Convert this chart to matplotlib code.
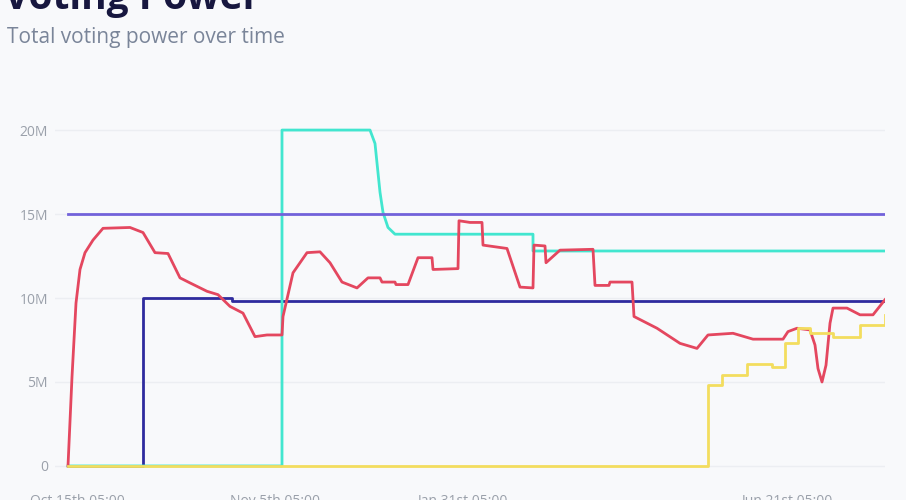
import matplotlib
matplotlib.use('Agg')
import matplotlib.pyplot as plt
from matplotlib.ticker import FuncFormatter

# time axis in chart units (0 = first sample)
red_t = [0, 4, 8, 12, 17, 25, 35, 62, 75, 87, 100, 112, 122, 139, 150, 162, 175, 187, 199, 214,
         215, 225, 239, 252, 262, 274, 289, 300, 312, 314, 327, 328, 340, 350, 364, 365, 390,
         391, 402, 414, 415, 439, 452, 465, 466, 477, 478, 492, 525, 527, 541, 542, 564, 566,
         589, 612, 629, 640, 665, 685, 715, 720, 729, 742, 747, 750, 754, 758, 762, 765, 779,
         792, 805, 817]
red_v = [0, 5.3, 9.7, 11.7, 12.7, 13.45, 14.15, 14.2, 13.9, 12.7, 12.65, 11.2, 10.9, 10.4, 10.2,
         9.5, 9.1, 7.7, 7.8, 7.8, 8.9, 11.5, 12.7, 12.75, 12.1, 10.95, 10.6, 11.2, 11.2, 10.95,
         10.95, 10.8, 10.8, 12.4, 12.4, 11.7, 11.75, 14.6, 14.5, 14.5, 13.15, 12.95, 10.65, 10.6,
         13.15, 13.1, 12.1, 12.85, 12.9, 10.75, 10.75, 10.95, 10.95, 8.9, 8.2, 7.3, 7.0, 7.8, 7.9,
         7.55, 7.55, 8.0, 8.2, 8.1, 7.2, 5.8, 5.0, 6.0, 8.5, 9.4, 9.4, 9.0, 9.0, 9.9]

navy_t = [0, 75, 164, 817]
navy_v = [0, 10, 9.8, 9.8]

cyan_t = [0, 214, 214, 302, 307, 312, 315, 320, 327, 465, 465, 817]
cyan_v = [0, 0, 20, 20, 19.2, 16.3, 15.1, 14.2, 13.8, 13.8, 12.8, 12.8]

purple_t = [0, 817]
purple_v = [15, 15]

yellow_t = [0, 640, 654, 679, 704, 717, 730, 742, 765, 792, 817]
yellow_v = [0, 4.8, 5.4, 6.1, 5.9, 7.3, 8.2, 7.9, 7.7, 8.4, 9.0]

tick_pos = [9, 207, 394, 719]
tick_labels = ['Oct 15th 05:00', 'Nov 5th 05:00', 'Jan 31st 05:00', 'Jun 21st 05:00']

bg = '#f8f9fb'
plt.rcParams['font.family'] = ['Open Sans', 'DejaVu Sans']

fig = plt.figure(figsize=(9.06, 5.0), dpi=100, facecolor=bg)
ax = fig.add_axes([55 / 906, 30 / 500, 830 / 906, 370 / 500], facecolor=bg)

lw = 2.0
M = 1e6
ax.plot(navy_t, [v * M for v in navy_v], color='#2f2b9e', lw=lw, drawstyle='steps-post', zorder=3)
ax.plot(cyan_t, [v * M for v in cyan_v], color='#42e6cf', lw=lw, zorder=3)
ax.plot(purple_t, [v * M for v in purple_v], color='#7262da', lw=lw, zorder=4)
ax.plot(red_t, [v * M for v in red_v], color='#e4475f', lw=lw, zorder=5)
ax.plot(yellow_t, [v * M for v in yellow_v], color='#f3dd5e', lw=lw, drawstyle='steps-post', zorder=6)

ax.set_xlim(-13, 817)
ax.set_ylim(-0.24 * M, 21.79 * M)
ax.set_yticks([0, 5 * M, 10 * M, 15 * M, 20 * M])
ax.yaxis.set_major_formatter(FuncFormatter(lambda v, p: '0' if v == 0 else '%dM' % (v / M)))
ax.set_xticks(tick_pos)
ax.set_xticklabels(tick_labels)
ax.tick_params(axis='y', length=0, pad=5, labelsize=10, labelcolor='#9aa0aa')
ax.tick_params(axis='x', length=0, pad=17.5, labelsize=10, labelcolor='#9aa0aa')
ax.grid(axis='y', color='#eceef2', lw=1)
ax.set_axisbelow(True)
for s in ax.spines.values():
    s.set_visible(False)

fig.text(4 / 906, 1 - 9 / 500, 'Voting Power', fontsize=28, fontweight='bold',
         color='#17173f', va='baseline', ha='left')
fig.text(7 / 906, 1 - 37 / 500, 'Total voting power over time', fontsize=15,
         color='#7a8599', va='center', ha='left')

fig.savefig('out.png', dpi=100, facecolor=bg)
